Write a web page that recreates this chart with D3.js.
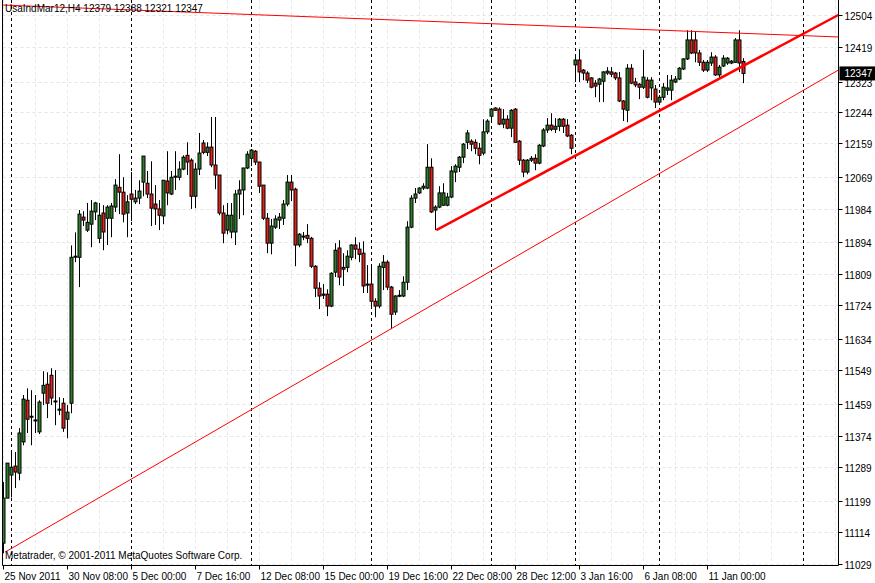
<!DOCTYPE html>
<html><head><meta charset="utf-8">
<script src="https://cdn.jsdelivr.net/npm/d3@7"></script>
<style>body{margin:0;background:#fff}svg{display:block}text{font-family:"Liberation Sans",Arial,sans-serif;font-size:10px}</style>
</head><body><svg id="c" width="875" height="583"></svg>
<script>
const symbol = "UsaIndMar12,H4";
const opens = [11085,11206,11268,11292,11273,11357,11469,11426,11416,11384,11488,11512,11536,11467,11445,11461,11418,11461,11856,11853,11961,11926,11942,11975,11904,11972,11958,11958,11988,12041,12028,11972,12023,12002,12012,12055,12052,12023,11996,11983,11964,12058,12023,12071,12068,12090,12127,12114,12017,12090,12160,12135,12149,12101,12074,11972,11926,11921,11921,12023,12034,12093,12119,12138,12109,12047,11958,11891,11934,11953,11958,11996,12055,12036,11886,11910,11912,11904,11829,11770,11754,11754,11722,11813,11878,11826,11826,11853,11886,11875,11864,11781,11781,11735,11722,11826,11840,11773,11706,11749,11749,11786,11934,12012,12026,12039,12039,12095,11980,11988,11993,11993,12015,12082,12095,12122,12162,12165,12162,12146,12133,12190,12232,12254,12251,12211,12224,12200,12251,12165,12114,12082,12114,12119,12106,12152,12195,12208,12197,12205,12224,12208,12181,12370,12383,12356,12348,12335,12321,12318,12326,12348,12351,12348,12335,12273,12248,12361,12324,12318,12310,12329,12308,12305,12270,12283,12302,12302,12324,12332,12359,12386,12437,12437,12402,12377,12356,12375,12391,12343,12367,12375,12375,12377,12437,12379];
const highs = [11249,11300,11335,11330,11394,11483,11501,11496,11483,11469,11547,11544,11555,11550,11477,11475,11456,11885,11920,11980,11977,11999,12007,12002,11999,11993,11993,11999,12063,12130,12068,12020,12082,12034,12060,12125,12085,12111,12047,12007,12060,12138,12085,12138,12111,12127,12162,12119,12106,12187,12168,12162,12230,12230,12074,11993,11999,11999,12034,12060,12093,12138,12144,12141,12109,12047,11972,11956,11966,11972,12007,12074,12074,12040,11918,11921,11942,11908,11832,11786,11781,11767,11813,11891,11899,11864,11872,11888,11907,11893,11896,11832,11835,11743,11837,11859,11845,11776,11751,11765,11802,11950,12020,12039,12041,12052,12157,12119,11993,12044,12052,12026,12098,12103,12125,12160,12195,12170,12170,12160,12224,12224,12254,12256,12256,12251,12235,12251,12254,12168,12117,12117,12125,12130,12157,12200,12227,12240,12227,12227,12227,12224,12184,12396,12412,12359,12353,12337,12329,12335,12353,12364,12364,12351,12351,12275,12372,12372,12335,12321,12410,12337,12337,12316,12289,12321,12343,12343,12340,12364,12388,12463,12463,12458,12410,12383,12383,12404,12396,12370,12396,12391,12383,12442,12463,12388];
const lows = [11058,11208,11208,11233,11254,11348,11381,11348,11381,11378,11456,11421,11456,11402,11429,11384,11367,11434,11840,11773,11937,11921,11880,11953,11891,11872,11886,11907,11975,11969,11947,11907,11950,11996,11996,12017,12012,11937,11940,11926,11942,11993,12020,12034,12060,12087,12074,11983,11985,12074,12130,12125,12095,12036,11966,11891,11915,11904,11886,11956,11966,12090,12098,12101,12026,11953,11864,11861,11929,11929,11940,11990,12004,11829,11880,11899,11891,11824,11746,11714,11741,11695,11719,11800,11778,11776,11813,11845,11848,11840,11757,11757,11719,11692,11716,11765,11765,11660,11698,11746,11746,11765,11931,11999,12023,12034,12036,11972,11926,11985,11991,11990,12012,12055,12082,12106,12144,12138,12130,12103,12127,12184,12222,12246,12208,12200,12197,12176,12160,12101,12068,12076,12109,12087,12103,12149,12187,12192,12187,12192,12187,12176,12130,12324,12324,12329,12321,12307,12283,12270,12270,12343,12337,12329,12270,12219,12216,12318,12310,12278,12305,12280,12275,12254,12267,12275,12289,12275,12321,12329,12356,12383,12399,12377,12367,12351,12351,12367,12340,12335,12364,12370,12372,12375,12351,12321];
const closes = [11206,11300,11289,11276,11381,11472,11418,11426,11416,11464,11509,11461,11475,11467,11445,11394,11437,11853,11856,11969,11953,11947,11977,11999,11966,11921,11988,11991,12047,12028,11969,12002,12009,12012,12031,12125,12023,11985,11983,11966,12060,12026,12068,12071,12090,12122,12109,12017,12090,12133,12135,12149,12101,12074,11972,11918,11966,11966,12023,12034,12093,12130,12141,12109,12044,11958,11891,11937,11956,11961,11996,12055,12034,11886,11915,11910,11904,11829,11770,11749,11751,11722,11810,11872,11800,11821,11856,11886,11875,11861,11776,11781,11735,11722,11829,11840,11773,11700,11749,11751,11786,11934,12012,12023,12039,12044,12095,11975,11988,12026,12026,12015,12085,12098,12122,12157,12187,12157,12146,12127,12190,12219,12251,12248,12211,12224,12200,12248,12162,12114,12082,12114,12119,12106,12154,12195,12208,12197,12205,12224,12205,12179,12146,12383,12351,12348,12329,12310,12313,12332,12351,12353,12345,12335,12273,12251,12361,12321,12316,12310,12337,12283,12329,12270,12283,12310,12308,12329,12332,12361,12386,12437,12402,12402,12377,12356,12377,12391,12343,12364,12388,12388,12380,12437,12375,12347];
const priceTicks = [12504,12419,12323,12244,12159,12069,11984,11894,11809,11724,11634,11549,11459,11374,11289,11199,11114,11029];
const timeLabels = ["25 Nov 2011","30 Nov 08:00","5 Dec 00:00","7 Dec 16:00","12 Dec 08:00","15 Dec 00:00","19 Dec 16:00","22 Dec 08:00","28 Dec 12:00","3 Jan 16:00","6 Jan 08:00","11 Jan 00:00"];
const timeLabelBars = [0,16,32,48,64,80,96,112,128,144,160,176];
const separatorBars = [2,32,62,92,122,143,164,200];
const trendThin1 = [-0.8,12531,208.7,12445];
const trendThick = [108.2,11926,208.7,12504];
const trendThin2 = [0.4,11061,208.7,12356];

const svg = d3.select("#c");
const L=2.5,R=838.5,T=0,B=565.5;
const x = d3.scaleLinear().domain([0,1]).range([3.5,7.5]);
const y = d3.scaleLinear().domain([11029,12504]).range([564,15]);
svg.append("clipPath").attr("id","pc").append("rect").attr("x",L).attr("y",T).attr("width",R-L).attr("height",B-T);
const g = svg.append("g").attr("clip-path","url(#pc)");
priceTicks.forEach(p=>g.append("line").attr("x1",L).attr("x2",R).attr("y1",Math.round(y(p))+0.5).attr("y2",Math.round(y(p))+0.5).attr("stroke","#e4e4e4").attr("stroke-dasharray","3,3"));
d3.range(0,210,8).forEach(i=>g.append("line").attr("x1",x(i)).attr("x2",x(i)).attr("y1",T).attr("y2",B).attr("stroke","#e8e8e8").attr("stroke-dasharray","3,3"));
separatorBars.forEach(i=>g.append("line").attr("x1",x(i)).attr("x2",x(i)).attr("y1",T).attr("y2",B).attr("stroke","#000").attr("stroke-dasharray","3,3"));
opens.forEach((o,i)=>{
  const c=closes[i],cx=x(i);
  g.append("line").attr("x1",cx).attr("x2",cx).attr("y1",y(highs[i])).attr("y2",y(lows[i])).attr("stroke","#000");
  const top=Math.min(y(o),y(c)),h=Math.max(1,Math.abs(y(o)-y(c)));
  g.append("rect").attr("x",cx-1.5).attr("y",top).attr("width",3).attr("height",h)
   .attr("fill",c>o?"#2f7d2a":(c<o?"#e0231b":"#000")).attr("stroke","#000").attr("stroke-width",1);
});
[[trendThin1,1],[trendThick,2.5],[trendThin2,1]].forEach(([t,w])=>g.append("line")
  .attr("x1",x(t[0])).attr("y1",y(t[1])).attr("x2",x(t[2])).attr("y2",y(t[3])).attr("stroke","#ff0000").attr("stroke-width",w));
svg.append("path").attr("d",`M${L},${T}V${B}H${R}V${T}`).attr("fill","none").attr("stroke","#000");
priceTicks.forEach(p=>{
  const yy=Math.round(y(p))+0.5;
  svg.append("line").attr("x1",R).attr("x2",R+4).attr("y1",yy).attr("y2",yy).attr("stroke","#000");
  svg.append("text").attr("x",R+6).attr("y",yy+4).text(p);
});
const cy=y(closes[closes.length-1]);
svg.append("rect").attr("x",R+1).attr("y",cy-7).attr("width",36).attr("height",14).attr("fill","#000");
svg.append("text").attr("x",R+6).attr("y",cy+4).attr("fill","#fff").text(closes[closes.length-1]);
timeLabelBars.forEach((b,k)=>{
  const xx=Math.round(x(b))-0.5;
  svg.append("line").attr("x1",xx).attr("x2",xx).attr("y1",B).attr("y2",B+4).attr("stroke","#000");
  svg.append("text").attr("x",xx+1).attr("y",580).text(timeLabels[k]);
});
const n=closes.length-1;
svg.append("text").attr("x",5).attr("y",12).text(`${symbol}  ${opens[n]} ${highs[n]} ${lows[n]} ${closes[n]}`);
svg.append("text").attr("x",5).attr("y",559).text("Metatrader, © 2001-2011 MetaQuotes Software Corp.");
</script></body></html>
